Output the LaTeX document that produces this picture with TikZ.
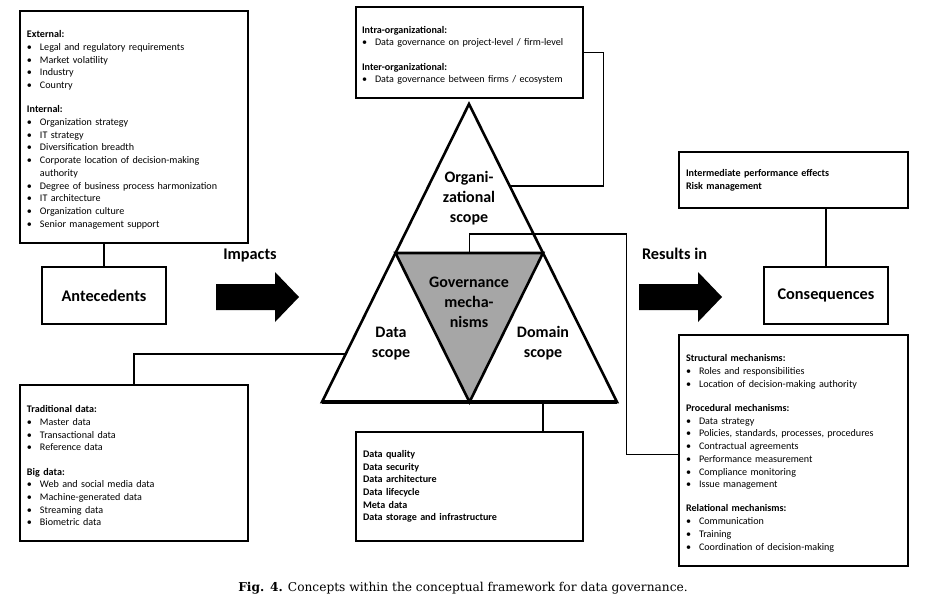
\documentclass[tikz,border=0pt]{standalone}
\usepackage{fontspec}
\setmainfont{Carlito}
\newfontfamily\capfont{DejaVu Serif}
\usepackage{xcolor}
\usepackage{tikz}
\usetikzlibrary{positioning,calc}
\definecolor{GovGray}{RGB}{166,166,166}
% khối chữ trong các hộp
\newcommand{\hdr}[1]{\par\noindent\textbf{#1}}
\newcommand{\itm}[1]{\par\noindent\hangindent=13pt\hangafter=1\makebox[13pt][l]{\textbullet}#1}
\newcommand{\gap}{\par\vspace{11.5pt}}
\tikzset{
    infobox/.style={rectangle, draw=black, line width=1.4pt, align=left, inner xsep=7pt, inner ysep=0pt, font=\fontsize{10.1}{12.7}\selectfont},
    keybox/.style={rectangle, draw=black, line width=1.8pt, minimum width=124pt, minimum height=57pt, font=\bfseries\fontsize{16.3}{18}\selectfont},
    link/.style={draw=black, line width=1.4pt},
    tri/.style={draw=black, line width=2.6pt, line join=miter}
}
\begin{document}
\begin{tikzpicture}[
        x=1pt, y=-1pt,
        % --- STYLE ---
        trilabel/.style={align=center, font=\bfseries\fontsize{16}{20}\selectfont},
        flowlabel/.style={font=\bfseries\fontsize{16.3}{18}\selectfont}
    ]
    \useasboundingbox (0,0) rectangle (936,606);

    % --- HỘP ANTECEDENTS ---
    \node[infobox, minimum width=228pt, minimum height=232pt, text width=214pt] (extbox) at (134,127) {%
        \hdr{External:}
        \itm{Legal and regulatory requirements}
        \itm{Market volatility}
        \itm{Industry}
        \itm{Country}
        \gap
        \hdr{Internal:}
        \itm{Organization strategy}
        \itm{IT strategy}
        \itm{Diversification breadth}
        \itm{Corporate location of decision-making\newline authority}
        \itm{Degree of business process harmonization}
        \itm{IT architecture}
        \itm{Organization culture}
        \itm{Senior management support}};
    \node[keybox] (antecedents) at (104,295.5) {Antecedents};

    % --- HỘP ORGANIZATIONAL SCOPE ---
    \node[infobox, minimum width=227pt, minimum height=91pt, text width=215pt, inner xsep=6pt] (orgbox) at (469.5,52.5) {%
        \hdr{Intra-organizational:}
        \itm{Data governance on project-level / firm-level}
        \gap
        \hdr{Inter-organizational:}
        \itm{Data governance between firms / ecosystem}};

    % --- HỘP DATA SCOPE ---
    \node[infobox, minimum width=228pt, minimum height=156pt, text width=214pt] (databox) at (134,463) {%
        \hdr{Traditional data:}
        \itm{Master data}
        \itm{Transactional data}
        \itm{Reference data}
        \gap
        \hdr{Big data:}
        \itm{Web and social media data}
        \itm{Machine-generated data}
        \itm{Streaming data}
        \itm{Biometric data}};

    % --- HỘP DOMAIN SCOPE ---
    \node[infobox, minimum width=227pt, minimum height=109pt, text width=213pt, font=\bfseries\fontsize{10.1}{12.7}\selectfont] (domainbox) at (469.5,486.5) {%
        Data quality\\
        Data security\\
        Data architecture\\
        Data lifecycle\\
        Meta data\\
        Data storage and infrastructure};

    % --- HỘP CONSEQUENCES ---
    \node[infobox, minimum width=229pt, minimum height=56pt, text width=215pt, font=\bfseries\fontsize{10.1}{12.7}\selectfont] (effbox) at (793.5,180) {%
        Intermediate performance effects\\
        Risk management};
    \node[keybox] (consequences) at (826,295.5) {Consequences};
    \node[infobox, minimum width=229pt, minimum height=231pt, text width=215pt] (mechbox) at (793.5,450.5) {%
        \hdr{Structural mechanisms:}
        \itm{Roles and responsibilities}
        \itm{Location of decision-making authority}
        \gap
        \hdr{Procedural mechanisms:}
        \itm{Data strategy}
        \itm{Policies, standards, processes, procedures}
        \itm{Contractual agreements}
        \itm{Performance measurement}
        \itm{Compliance monitoring}
        \itm{Issue management}
        \gap
        \hdr{Relational mechanisms:}
        \itm{Communication}
        \itm{Training}
        \itm{Coordination of decision-making}};

    % --- TAM GIÁC ---
    \coordinate (apex) at (469,104);
    \coordinate (bl) at (322,402);
    \coordinate (br) at (617,402);
    \coordinate (ml) at ($(apex)!0.5!(bl)$);
    \coordinate (mr) at ($(apex)!0.5!(br)$);
    \coordinate (mb) at ($(bl)!0.5!(br)$);
    \coordinate (mt) at ($(ml)!0.5!(mr)$);
    \coordinate (orgpt) at ($(apex)!0.275!(br)$);
    \coordinate (datapt) at ($(apex)!0.839!(bl)$);
    \fill[GovGray] (ml) -- (mr) -- (mb) -- cycle;
    \draw[tri] (apex) -- (br) -- (bl) -- cycle;
    \draw[tri] (ml) -- (mr) -- (mb) -- cycle;
    \draw[line width=4pt] (bl) -- (br);

    \node[trilabel] (orglabel) at (469,198) {Organi-\\zational\\scope};
    \node[trilabel] (govlabel) at (469,302) {Governance\\mecha-\\nisms};
    \node[trilabel] (datalabel) at (391,343.5) {Data\\scope};
    \node[trilabel] (domainlabel) at (543,343.5) {Domain\\scope};

    % --- MŨI TÊN LỚN ---
    \node[flowlabel] (impacts) at (250,255) {Impacts};
    \node[flowlabel] (results) at (674.5,254) {Results in};
    \foreach \ax in {216, 639} {
        \fill[black] (\ax,284) -- ++(59,0) -- ++(0,-12) -- ++(24,25) -- ++(-24,25) -- ++(0,-12) -- ++(-59,0) -- cycle;
    }

    % --- ĐƯỜNG NỐI ---
    \draw[link] (antecedents.north) -- (antecedents.north |- extbox.south);
    \draw[link] (orgbox.east) -- ++(20,0) |- (orgpt);
    \draw[link] (databox.north) |- (datapt);
    \draw[link] (mr |- bl) -- (mr |- domainbox.north);
    \draw[link] (mt) -- ++(0,-19) -| ($(mechbox.west)+(-52,4)$) -- ($(mechbox.west)+(0,4)$);
    \draw[link] (consequences.north) -- (consequences.north |- effbox.south);

    % --- CHÚ THÍCH ---
    \node[font=\capfont\fontsize{12.2}{14}\selectfont] (caption) at (463,588) {\textbf{Fig. 4.} Concepts within the conceptual framework for data governance.};

\end{tikzpicture}
\end{document}
